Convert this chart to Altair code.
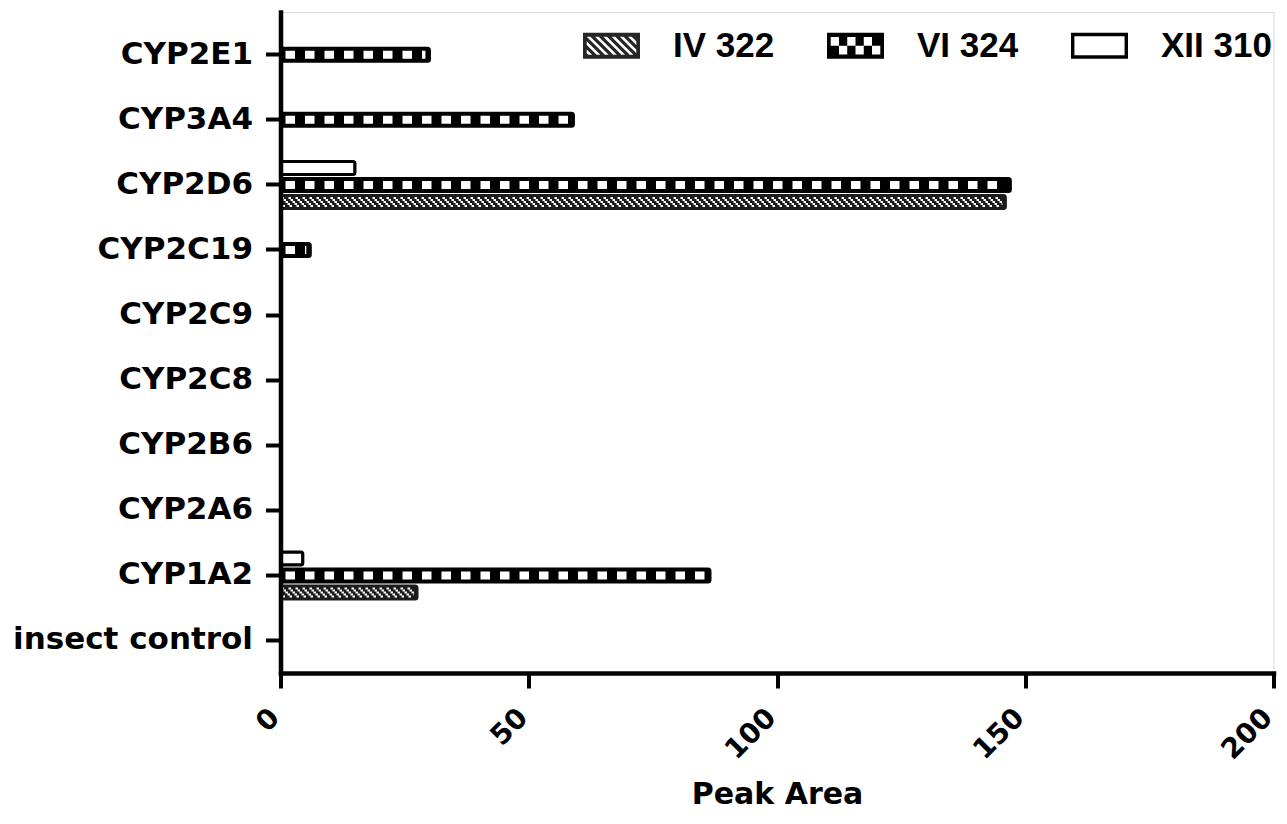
import altair as alt
import pandas as pd

# ---------------- data ----------------
categories = ["CYP2E1", "CYP3A4", "CYP2D6", "CYP2C19", "CYP2C9",
              "CYP2C8", "CYP2B6", "CYP2A6", "CYP1A2", "insect control"]
series_names = ["IV 322", "VI 324", "XII 310"]
iv_322 = [0, 0, 146, 0, 0, 0, 0, 0, 27.5, 0]
vi_324 = [30, 59, 147, 6, 0, 0, 0, 0, 86.5, 0]
xii_310 = [0, 0, 15, 0, 0, 0, 0, 0, 4.5, 0]
x_ticks = [0, 50, 100, 150, 200]

rows = []
for name, vals in zip(series_names, [iv_322, vi_324, xii_310]):
    for c, v in zip(categories, vals):
        rows.append({"cyp": c, "series": name, "value": v})
df = pd.DataFrame(rows)

# ---------------- legend symbol shapes (styling) ----------------
def area(pts):
    return 0.5 * sum(x1 * y2 - x2 * y1 for (x1, y1), (x2, y2) in zip(pts, pts[1:] + pts[:1]))

def ring(pts, positive=True):
    if (area(pts) > 0) != positive:
        pts = pts[::-1]
    return "M" + " L".join(f"{x:.3f},{y:.3f}" for x, y in pts) + " Z"

def rect(x0, y0, x1, y1):
    return [(x0, y0), (x1, y0), (x1, y1), (x0, y1)]

def clip_x(poly, xmin, xmax):
    def clip(poly, inside, intersect):
        out = []
        for i in range(len(poly)):
            cur, prev = poly[i], poly[i - 1]
            if inside(cur):
                if not inside(prev):
                    out.append(intersect(prev, cur))
                out.append(cur)
            elif inside(prev):
                out.append(intersect(prev, cur))
        return out

    def ix(xc):
        def f(p, q):
            t = (xc - p[0]) / (q[0] - p[0])
            return (xc, p[1] + t * (q[1] - p[1]))
        return f

    poly = clip(poly, lambda p: p[0] >= xmin, ix(xmin))
    if poly:
        poly = clip(poly, lambda p: p[0] <= xmax, ix(xmax))
    return poly

OUT = rect(-1, -0.46, 1, 0.46)
# hatched symbol
iv_path = ring(OUT, True)
for k in range(-4, 10):
    a = -0.87 + k * 0.29
    p = [(a, -0.32), (a + 0.13, -0.32), (a + 0.77, 0.32), (a + 0.64, 0.32)]
    p = clip_x(p, -0.87, 0.87)
    if len(p) >= 3 and abs(area(p)) > 1e-4:
        iv_path += " " + ring(p, False)
# checker symbol
vi_path = ring(OUT, True)
for col in range(6):
    x0 = -0.87 + col * 0.29
    if col % 2 == 0:
        vi_path += " " + ring(rect(x0, -0.31, x0 + 0.29, 0.0), False)
    else:
        vi_path += " " + ring(rect(x0, 0.0, x0 + 0.29, 0.31), False)
# open box symbol
xii_path = ring(OUT, True) + " " + ring(rect(-0.88, -0.33, 0.88, 0.33), False)

# ---------------- scales / axes ----------------
W, H = 993, 661
x_scale = alt.Scale(domain=[0, 200], nice=False, zero=True)
y_scale = alt.Scale(domain=categories, paddingInner=0, paddingOuter=0.0785, align=1)

x_axis = alt.Axis(values=x_ticks, title="Peak Area", format="d",
                  labelAngle=-45, labelAlign="right", labelBaseline="alphabetic",
                  labelFont="DejaVu Sans", labelFontWeight="bold", labelFontSize=28,
                  labelColor="black", labelPadding=31,
                  labelFlush=False, labelOverlap=False,
                  tickSize=15, tickWidth=4, tickColor="black",
                  domainColor="black", domainWidth=4.5, domainCap="square", grid=False,
                  titleFont="DejaVu Sans", titleFontWeight="bold", titleFontSize=30,
                  titleColor="black", titleY=130, titleBaseline="alphabetic", zindex=1)
y_axis = alt.Axis(title=None, labelFont="DejaVu Sans", labelFontWeight="bold",
                  labelFontSize=31, labelColor="black", labelPadding=13, labelLimit=400,
                  tickSize=15, tickWidth=4, tickColor="black",
                  domainColor="black", domainWidth=4.5, domainCap="square", grid=False, zindex=1)

def X(field):
    return alt.X(field, type="quantitative", scale=x_scale, axis=x_axis)

Y = alt.Y("cyp:N", scale=y_scale, axis=y_axis, sort=categories)

def filt(name):
    return f"datum.series == '{name}' && datum.value > 0"

def bar_layer(name, offset, fill, stroke):
    return alt.Chart(df).transform_filter(filt(name)).mark_bar(
        height=13, yOffset=offset, fill=fill, stroke=stroke, strokeWidth=3,
        cornerRadius=2).encode(x=X("value"), y=Y)

def rule_layer(name, offset, color, width, dash, dash_offset, end_offset):
    return alt.Chart(df).transform_filter(filt(name)).transform_calculate(
        zero="0").mark_rule(
        yOffset=offset, color=color, strokeWidth=width, strokeDash=dash,
        strokeDashOffset=dash_offset, x2Offset=end_offset).encode(
        x=X("zero"), x2=alt.X2("value:Q"), y=Y)

layers = []
# XII 310: open boxes (top)
layers.append(bar_layer("XII 310", -17, "white", "black"))
# VI 324: black with white squares (middle)
layers.append(bar_layer("VI 324", 0, "black", "black"))
layers.append(rule_layer("VI 324", 0, "white", 8, [9.5, 10], 14.5, -4))
# IV 322: dark hatched (bottom)
layers.append(bar_layer("IV 322", 17, "#1c1c1c", "#1c1c1c"))
for r, dy in enumerate([13, 15, 17, 19, 21]):
    layers.append(rule_layer("IV 322", dy, "white", 2, [2.5, 4.5], (6 - 2 * r) % 7, -3))

# legend (no marks drawn; the legend comes from the scale domain)
leg = alt.Legend(title=None, orient="none", legendX=302.5, legendY=5,
                 direction="horizontal", columns=3, columnPadding=52, labelOffset=33,
                 labelFont="Liberation Sans", labelFontWeight="bold", labelFontSize=35,
                 labelColor="black", labelLimit=300, symbolSize=3249,
                 symbolStrokeWidth=0, symbolOpacity=1, padding=0)
layers.append(
    alt.Chart(df).transform_filter("false").mark_point(
        filled=True, opacity=1, size=3249, strokeWidth=0).encode(
        shape=alt.Shape("series:N", scale=alt.Scale(domain=series_names,
                                                     range=[iv_path, vi_path, xii_path]),
                        legend=leg),
        fill=alt.Fill("series:N", scale=alt.Scale(domain=series_names,
                                                  range=["#262626", "#000000", "#000000"]),
                      legend=leg))
)

chart = alt.layer(*layers).properties(
    width=W, height=H,
    autosize=alt.AutoSizeParams(type="none"),
    padding={"left": 272.5, "top": 4, "right": 5.5, "bottom": 138},
    background="white",
).configure_view(stroke="transparent").configure(font="DejaVu Sans")

chart.save("out.html", embed_options={"renderer": "svg", "actions": False})
